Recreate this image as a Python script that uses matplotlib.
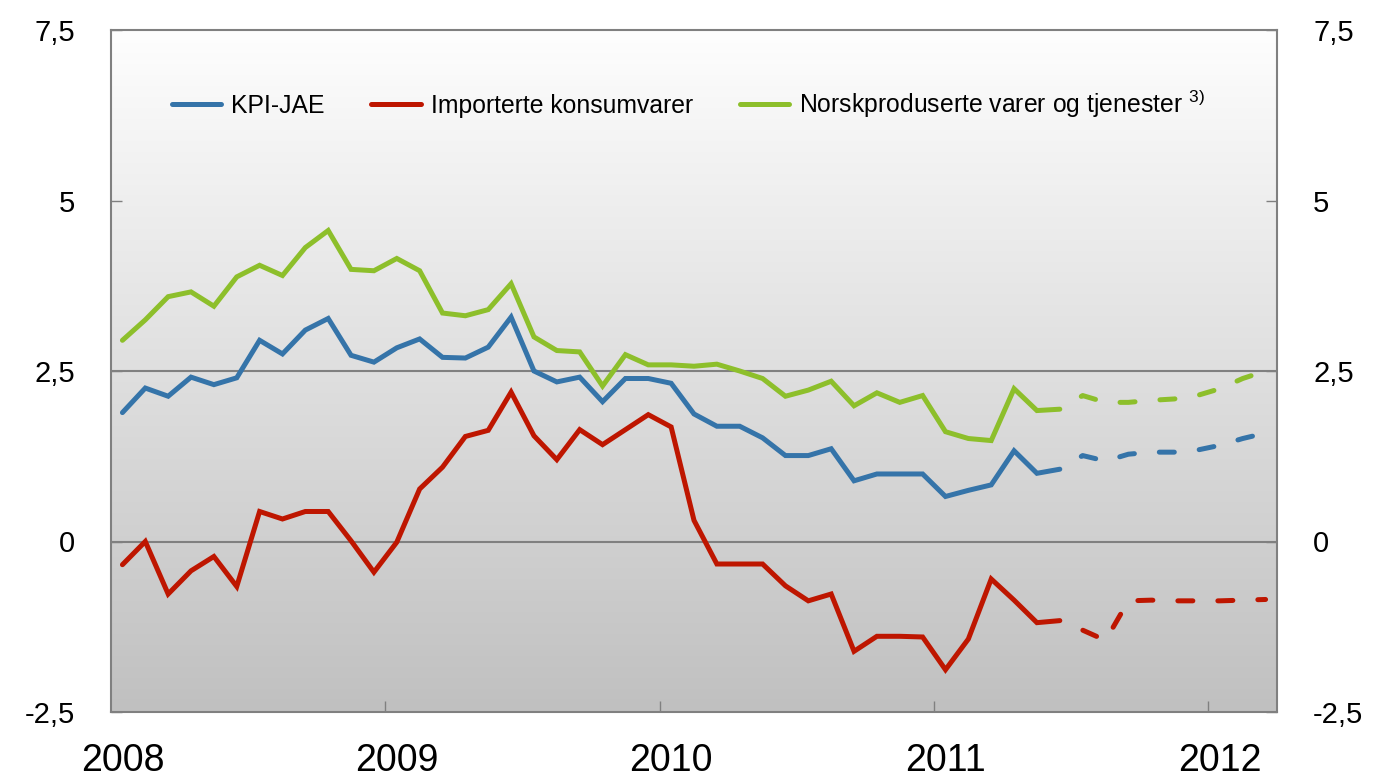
import matplotlib.pyplot as plt
import numpy as np
import pandas as pd
from matplotlib.colors import LinearSegmentedColormap

plt.rcParams['font.family'] = ['Liberation Sans', 'DejaVu Sans']
plt.rcParams['mathtext.default'] = 'regular'

# Monthly observations Jan 2008 - Mar 2012, projections after June 2011
months = pd.period_range('2008-01', '2012-03', freq='M')
last_obs = months.get_loc(pd.Period('2011-06', freq='M'))

kpi_jae = [1.89, 2.25, 2.13, 2.41, 2.30, 2.40, 2.95, 2.75, 3.10, 3.27,
           2.73, 2.63, 2.84, 2.97, 2.70, 2.69, 2.85, 3.29, 2.50, 2.34,
           2.41, 2.05, 2.39, 2.39, 2.32, 1.87, 1.69, 1.69, 1.52, 1.26,
           1.26, 1.36, 0.89, 0.99, 0.99, 0.99, 0.66, 0.75, 0.83, 1.33,
           1.00, 1.06, 1.26, 1.18, 1.28, 1.31, 1.31, 1.34, 1.41, 1.51, 1.59]

importerte = [-0.34, 0.00, -0.77, -0.43, -0.22, -0.66, 0.44, 0.33, 0.44, 0.44,
              0.01, -0.45, -0.01, 0.77, 1.09, 1.54, 1.63, 2.19, 1.55, 1.20,
              1.64, 1.42, 1.64, 1.86, 1.68, 0.31, -0.33, -0.33, -0.33, -0.65,
              -0.87, -0.77, -1.61, -1.39, -1.39, -1.40, -1.88, -1.43, -0.55, -0.86,
              -1.19, -1.16, -1.30, -1.45, -0.87, -0.86, -0.87, -0.87, -0.87, -0.86, -0.85]

norskprod = [2.95, 3.25, 3.59, 3.66, 3.45, 3.88, 4.05, 3.90, 4.31, 4.56,
             3.99, 3.97, 4.15, 3.97, 3.35, 3.31, 3.40, 3.78, 3.00, 2.80,
             2.78, 2.28, 2.74, 2.59, 2.59, 2.57, 2.60, 2.50, 2.39, 2.13,
             2.22, 2.35, 1.99, 2.18, 2.04, 2.14, 1.61, 1.51, 1.48, 2.24,
             1.92, 1.94, 2.14, 2.04, 2.04, 2.07, 2.09, 2.14, 2.24, 2.39, 2.50]

series = [
    ('KPI-JAE', kpi_jae, '#3574A9'),
    ('Importerte konsumvarer', importerte, '#BE1600'),
    ('Norskproduserte varer og tjenester $^{3)}$', norskprod, '#8DBF2B'),
]

y_ticks = [-2.5, 0, 2.5, 5, 7.5]
y_ticklabels = ['-2,5', '0', '2,5', '5', '7,5']

x = np.arange(len(months))

fig = plt.figure(figsize=(13.78, 7.78), dpi=100)
ax = fig.add_axes([111 / 1378, 1 - 712 / 778, 1166 / 1378, 682 / 778])

# vertical grey gradient behind the lines
bg = LinearSegmentedColormap.from_list('bg', ['#fefefe', '#c0c0c0'])
ax.imshow(np.linspace(0, 1, 256).reshape(-1, 1), cmap=bg, aspect='auto',
          extent=[-0.5, len(x) - 0.5, -2.5, 7.5], origin='upper', zorder=0)

for yv in (0, 2.5):
    ax.axhline(yv, color='#808080', lw=1.5, zorder=1)

for label, vals, color in series:
    vals = np.asarray(vals)
    ax.plot(x[:last_obs + 1], vals[:last_obs + 1], color=color, lw=3.6,
            solid_capstyle='round', solid_joinstyle='miter', label=label, zorder=3)
    # projection: start with a gap after the last observation
    ax.plot(x[last_obs:], vals[last_obs:], color=color, lw=3.6,
            linestyle=(3, (3, 5)), dash_capstyle='round', zorder=3)

ax.set_xlim(-0.5, len(x) - 0.5)
ax.set_ylim(-2.5, 7.5)

jan = [i for i, m in enumerate(months) if m.month == 1]
ax.set_xticks(jan)
ax.set_xticklabels([str(months[i].year) for i in jan])
ax.set_xticks([i - 0.5 for i in jan[1:]], minor=True)
ax.tick_params(axis='x', which='major', length=0, pad=22, labelsize=27)
ax.tick_params(axis='x', which='minor', direction='in', length=8, width=1, color='#808080')

ax.set_yticks(y_ticks)
ax.set_yticklabels(y_ticklabels)
ax.tick_params(axis='y', direction='in', length=8, width=1, color='#808080',
               labelsize=21, pad=26, left=True, right=True,
               labelleft=True, labelright=True)

for sp in ax.spines.values():
    sp.set_color('#808080')
    sp.set_linewidth(1.5)

ax.legend(loc='center left', bbox_to_anchor=(0.052, 0.8915), ncol=3,
          frameon=False, fontsize=17.8, handlelength=2.0, handletextpad=0.4,
          columnspacing=1.9, borderpad=0, borderaxespad=0)

fig.savefig('out.png', dpi=100)
